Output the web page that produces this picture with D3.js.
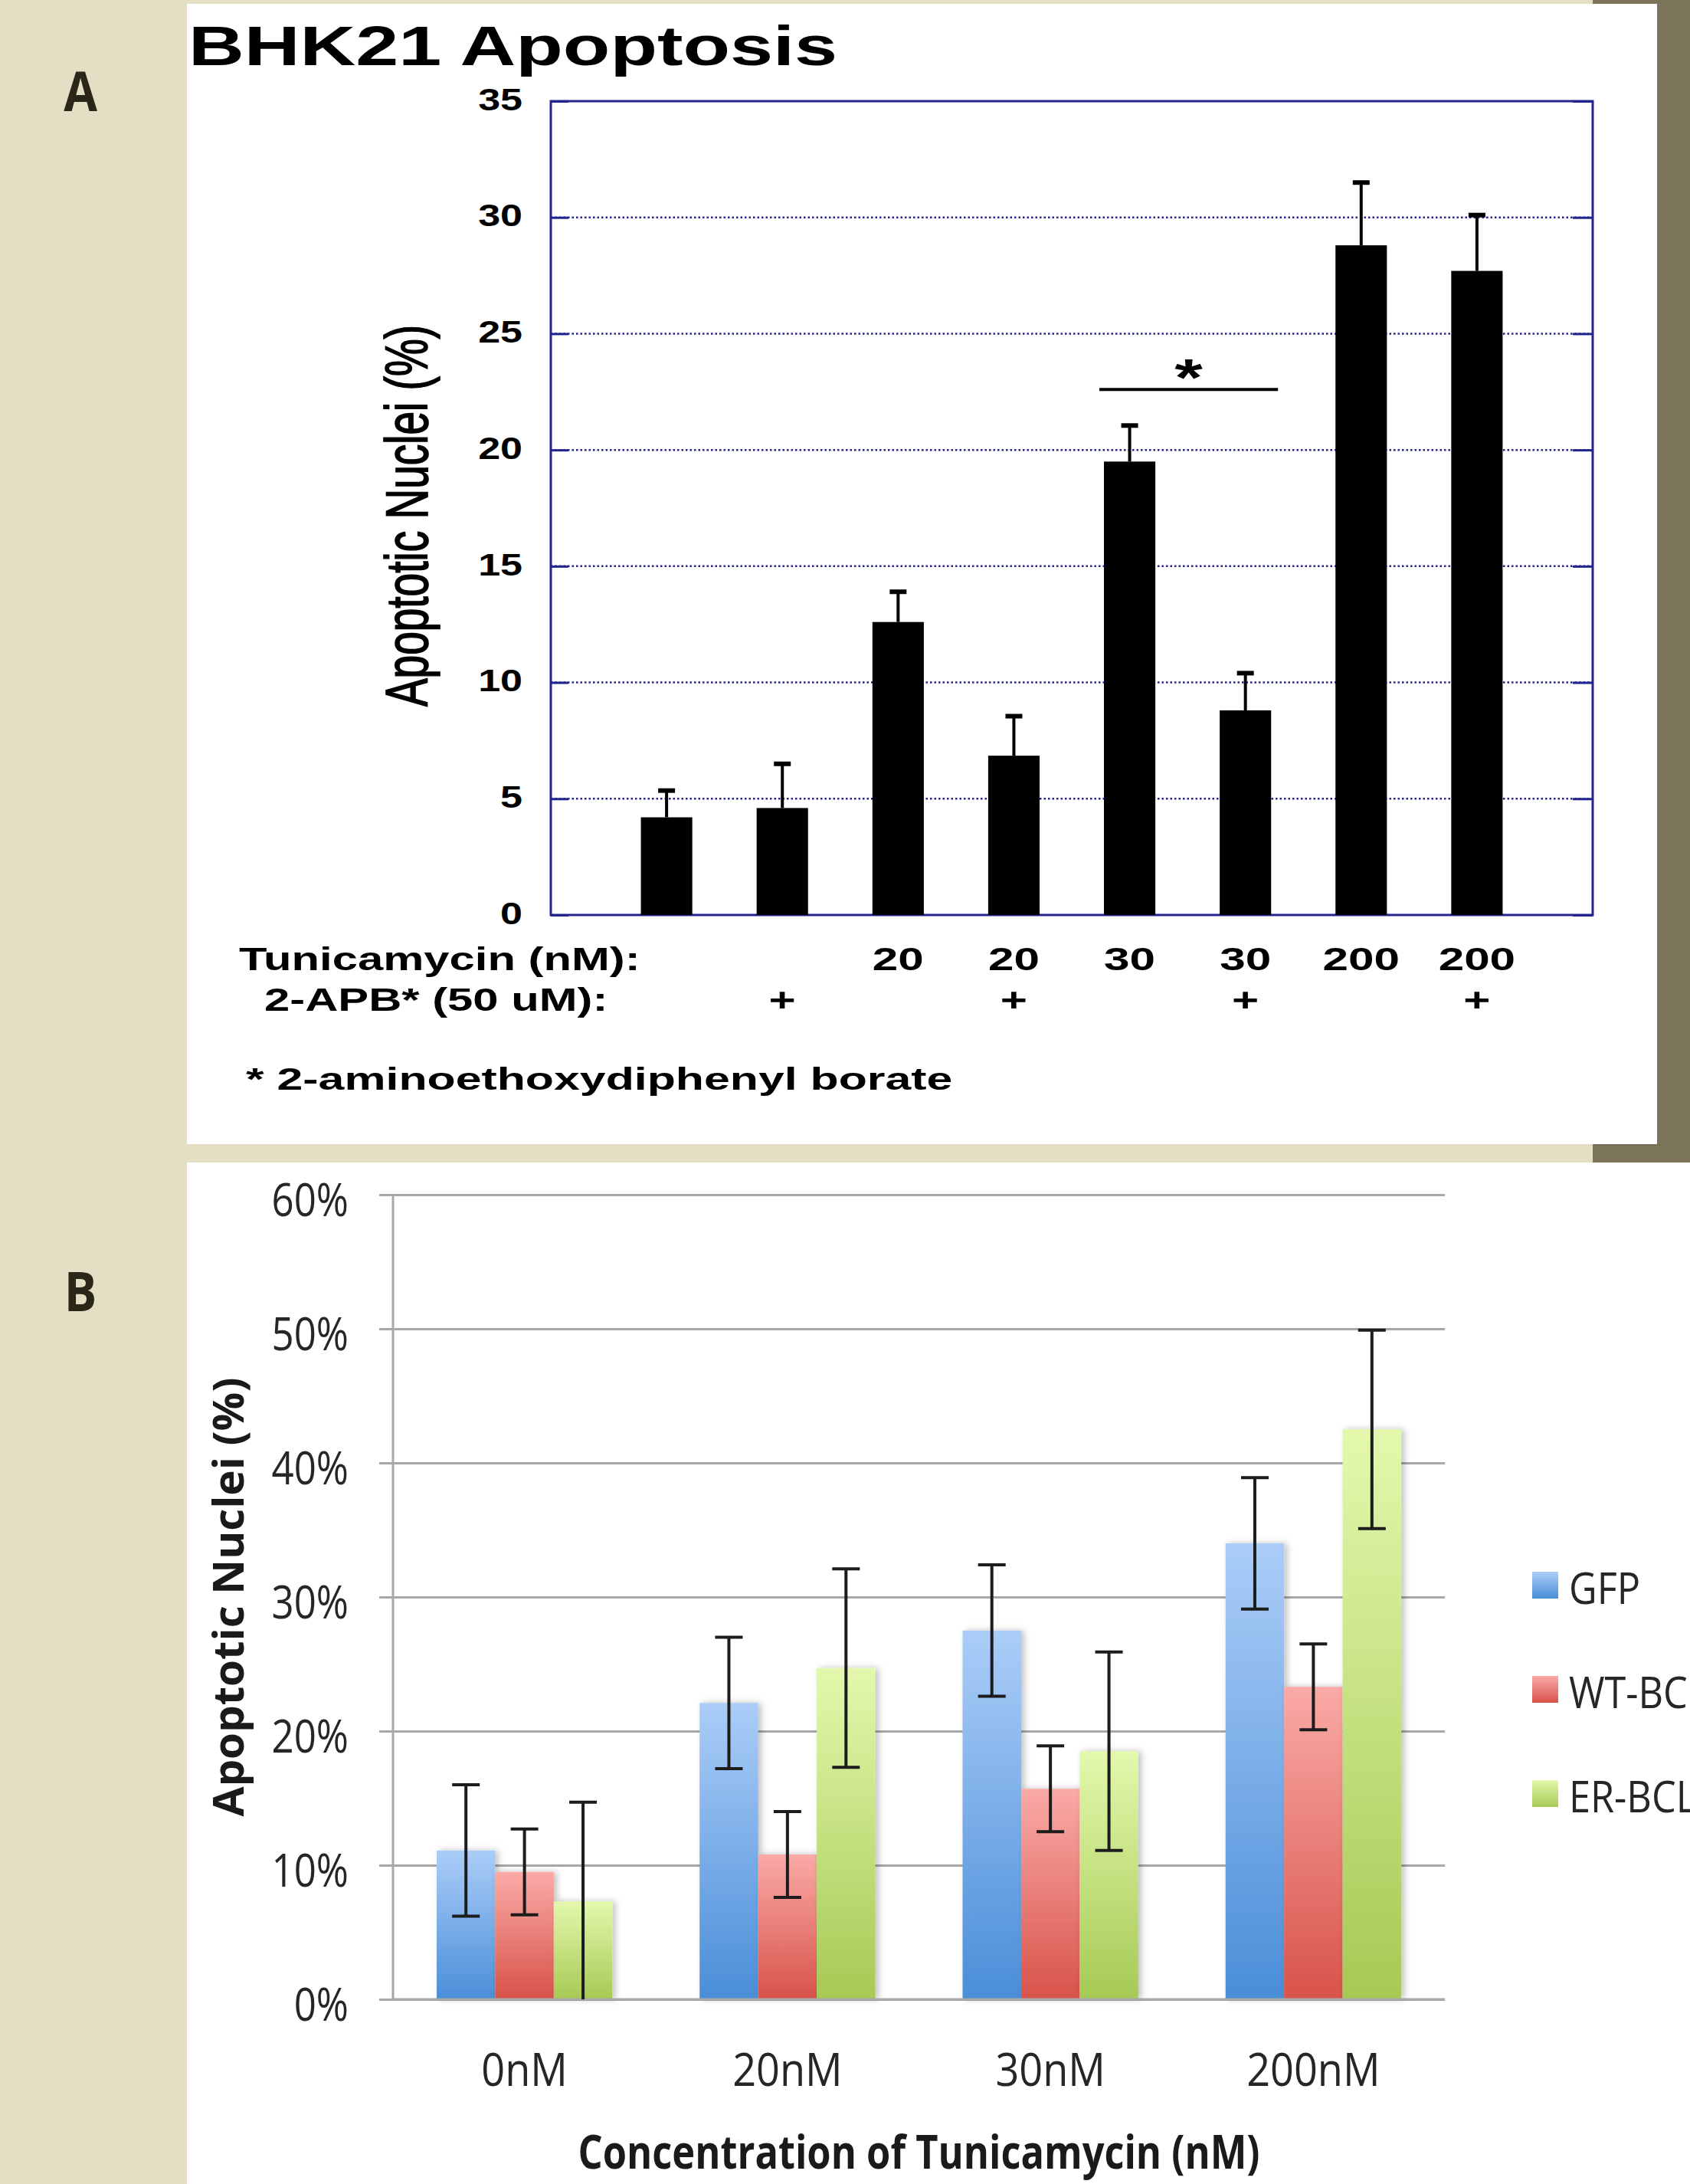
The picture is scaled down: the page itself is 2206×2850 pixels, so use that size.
<!DOCTYPE html>
<html>
<head>
<meta charset="utf-8">
<script src="https://cdn.jsdelivr.net/npm/d3@7"></script>
<style>
    body { margin: 0; background: #e4dfc4; overflow: hidden; }
    svg { display: block; }
</style>
</head>
<body>
<svg id="figure" width="2206" height="2850"></svg>
<script>
// ---- panel A data ----
var aCategories = ["ctrl", "ctrl+APB", "20", "20+APB", "30", "30+APB", "200", "200+APB"];
var aTunicamycin = ["", "", "20", "20", "30", "30", "200", "200"];
var aApb = ["", "+", "", "+", "", "+", "", "+"];
var aValues = [4.2, 4.6, 12.6, 6.85, 19.5, 8.8, 28.8, 27.7];
var aErrors = [1.15, 1.9, 1.3, 1.7, 1.55, 1.6, 2.7, 2.4];
var aTicks = [0, 5, 10, 15, 20, 25, 30, 35];
var aSignif = ["30", "30+APB"];

// ---- panel B data ----
var bGroups = ["0nM", "20nM", "30nM", "200nM"];
var bSeries = ["GFP", "WT-BCL2", "ER-BCL2"];
var bGfp = [11.1, 22.1, 27.5, 34.0];
var bWt = [9.5, 10.8, 15.7, 23.3];
var bEr = [7.3, 24.7, 18.5, 42.5];
var bGfpErr = [4.9, 4.9, 4.9, 4.9];
var bWtErr = [3.2, 3.2, 3.2, 3.2];
var bErErr = [7.4, 7.4, 7.4, 7.4];
var bTicks = [0, 10, 20, 30, 40, 50, 60];

var svg = d3.select("#figure");
var navy = "#24248f";
var arial = "'Liberation Sans', Arial, sans-serif";
var opens = "'Open Sans', sans-serif";

// stretch / squeeze text horizontally to match the picture
function squeeze(sel, k) {
    sel.each(function () {
        var w = this.getComputedTextLength();
        d3.select(this).attr("textLength", w * k).attr("lengthAdjust", "spacingAndGlyphs");
    });
}

// backgrounds
svg.append("rect").attr("width", 2206).attr("height", 2850).attr("fill", "#e4dfc4");
svg.append("rect").attr("x", 2079).attr("y", 0).attr("width", 127).attr("height", 1517).attr("fill", "#7b735a");
svg.append("rect").attr("x", 244).attr("y", 5).attr("width", 1919).attr("height", 1488).attr("fill", "#fff");
svg.append("rect").attr("x", 244).attr("y", 1517).attr("width", 1962).attr("height", 1333).attr("fill", "#fff");

// panel letters
svg.append("text").attr("x", 105).attr("y", 145).attr("text-anchor", "middle")
    .style("font-family", opens).style("font-weight", 700).style("font-size", "72px")
    .attr("fill", "#2b2718").text("A").call(squeeze, 0.88);
svg.append("text").attr("x", 105).attr("y", 1711).attr("text-anchor", "middle")
    .style("font-family", opens).style("font-weight", 700).style("font-size", "72px")
    .attr("fill", "#2b2718").text("B").call(squeeze, 0.88);

(function () {
    var left = 719, right = 2079, top = 132, bottom = 1194;
    var step = (right - left) / 9;
    var g = svg.append("g");

    var x = d3.scaleBand()
        .domain(aCategories)
        .range([left + step / 2, right - step / 2])
        .paddingInner(0.556)
        .paddingOuter(0.278);

    var y = d3.scaleLinear()
        .domain([0, 35])
        .range([bottom, top]);

    var data = aCategories.map(function (c, i) {
        return { key: c, value: aValues[i], err: aErrors[i], tun: aTunicamycin[i], apb: aApb[i] };
    });

    // title
    g.append("text").attr("x", 246).attr("y", 85)
        .style("font-family", arial).style("font-weight", 700).style("font-size", "73px")
        .text("BHK21 Apoptosis").call(squeeze, 1.38);

    // dotted grid
    g.selectAll(".grid")
        .data(aTicks.filter(function (t) { return t > 0 && t < 35; }))
        .enter().append("line")
        .attr("x1", left).attr("x2", right)
        .attr("y1", function (d) { return y(d); })
        .attr("y2", function (d) { return y(d); })
        .attr("stroke", navy).attr("stroke-width", 2.5).attr("stroke-dasharray", "2.5,3");

    // left axis, ticks inward
    var yl = g.append("g")
        .attr("transform", "translate(" + left + ",0)")
        .call(d3.axisLeft(y).tickValues(aTicks).tickSizeInner(-23).tickSizeOuter(0).tickPadding(37));
    yl.select(".domain").remove();
    yl.selectAll(".tick line").attr("stroke", navy).attr("stroke-width", 3);
    yl.selectAll(".tick text")
        .attr("dy", "0.28em")
        .style("font-family", arial).style("font-weight", 700).style("font-size", "40px")
        .attr("fill", "#000").call(squeeze, 1.3);

    var yr = g.append("g")
        .attr("transform", "translate(" + right + ",0)")
        .call(d3.axisRight(y).tickValues(aTicks).tickSizeInner(-26).tickSizeOuter(0).tickFormat(""));
    yr.select(".domain").remove();
    yr.selectAll(".tick line").attr("stroke", navy).attr("stroke-width", 3);

    // frame
    g.append("rect").attr("x", left).attr("y", top)
        .attr("width", right - left).attr("height", bottom - top)
        .attr("fill", "none").attr("stroke", navy).attr("stroke-width", 3);

    // bars
    g.selectAll(".bar")
        .data(data)
        .enter().append("rect")
        .attr("class", "bar")
        .attr("x", function (d) { return x(d.key); })
        .attr("y", function (d) { return y(d.value); })
        .attr("width", x.bandwidth())
        .attr("height", function (d) { return bottom - y(d.value); })
        .attr("fill", "#000");

    // error bars (upper only)
    var cx = function (d) { return x(d.key) + x.bandwidth() / 2; };
    g.selectAll(".err")
        .data(data)
        .enter().append("line")
        .attr("x1", cx).attr("x2", cx)
        .attr("y1", function (d) { return y(d.value); })
        .attr("y2", function (d) { return y(d.value + d.err); })
        .attr("stroke", "#000").attr("stroke-width", 4);
    g.selectAll(".cap")
        .data(data)
        .enter().append("line")
        .attr("x1", function (d) { return cx(d) - 11; })
        .attr("x2", function (d) { return cx(d) + 11; })
        .attr("y1", function (d) { return y(d.value + d.err); })
        .attr("y2", function (d) { return y(d.value + d.err); })
        .attr("stroke", "#000").attr("stroke-width", 6);

    // significance bracket
    var sx1 = x(aSignif[0]) - 6, sx2 = x(aSignif[1]) + x.bandwidth() + 9;
    g.append("line")
        .attr("x1", sx1).attr("x2", sx2)
        .attr("y1", y(22.6)).attr("y2", y(22.6))
        .attr("stroke", "#000").attr("stroke-width", 4);
    g.append("text")
        .attr("x", (sx1 + sx2) / 2).attr("y", y(22.6) + 8)
        .attr("text-anchor", "middle")
        .style("font-family", arial).style("font-weight", 700).style("font-size", "68px")
        .text("*").call(squeeze, 1.38);

    // category labels
    var lab = function (sel) {
        sel.style("font-family", arial).style("font-weight", 700).style("font-size", "43px").attr("fill", "#000");
    };
    g.selectAll(".tun")
        .data(data)
        .enter().append("text")
        .attr("x", cx).attr("y", 1266)
        .attr("text-anchor", "middle")
        .call(lab)
        .text(function (d) { return d.tun; })
        .filter(function (d) { return d.tun !== ""; })
        .call(squeeze, 1.4);
    g.selectAll(".apb")
        .data(data)
        .enter().append("text")
        .attr("x", cx).attr("y", 1319)
        .attr("text-anchor", "middle")
        .call(lab)
        .text(function (d) { return d.apb; })
        .filter(function (d) { return d.apb !== ""; })
        .call(squeeze, 1.4);

    g.append("text").attr("x", 312).attr("y", 1266).call(lab)
        .text("Tunicamycin (nM):").call(squeeze, 1.39);
    g.append("text").attr("x", 345).attr("y", 1319).call(lab)
        .text("2-APB* (50 uM):").call(squeeze, 1.39);
    g.append("text").attr("x", 321).attr("y", 1422).call(lab)
        .style("font-size", "40px")
        .text("* 2-aminoethoxydiphenyl borate").call(squeeze, 1.52);

    // y title, stretched sideways like the picture
    g.append("text")
        .attr("transform", "translate(558,673) scale(1.4,1) rotate(-90)")
        .attr("text-anchor", "middle")
        .style("font-family", arial).style("font-size", "55px").style("font-weight", 400)
        .style("stroke", "#000").style("stroke-width", 1.2)
        .text("Apoptotic Nuclei (%)");
})();

(function () {
    var left = 513, right = 1886, top = 1559, bottom = 2609;
    var g = svg.append("g");
    var defs = svg.append("defs");

    var colors = {
        "GFP": ["#abcdf8", "#4a8ed8"],
        "WT-BCL2": ["#faaaa7", "#d8534a"],
        "ER-BCL2": ["#e3f8ad", "#a6ca54"]
    };
    bSeries.forEach(function (s, i) {
        var lg = defs.append("linearGradient").attr("id", "grad" + i)
            .attr("x1", 0).attr("y1", 0).attr("x2", 0).attr("y2", 1);
        lg.append("stop").attr("offset", "0%").attr("stop-color", colors[s][0]);
        lg.append("stop").attr("offset", "100%").attr("stop-color", colors[s][1]);
    });
    defs.append("filter").attr("id", "shadow").attr("x", "-20%").attr("width", "150%")
        .append("feDropShadow").attr("dx", 4).attr("dy", 0).attr("stdDeviation", 4)
        .attr("flood-color", "#000").attr("flood-opacity", 0.25);

    var x0 = d3.scaleBand()
        .domain(bGroups)
        .range([left, right])
        .paddingInner(0.332)
        .paddingOuter(0.166);
    var x1 = d3.scaleBand()
        .domain(bSeries)
        .range([0, x0.bandwidth()]);
    var y = d3.scaleLinear()
        .domain([0, 60])
        .range([bottom, top]);

    var vals = [bGfp, bWt, bEr], errs = [bGfpErr, bWtErr, bErErr];
    var data = [];
    bGroups.forEach(function (grp, gi) {
        bSeries.forEach(function (s, si) {
            data.push({ group: grp, series: s, si: si, value: vals[si][gi], err: errs[si][gi] });
        });
    });

    // grid + y axis
    var ya = g.append("g")
        .attr("transform", "translate(" + left + ",0)")
        .call(d3.axisLeft(y).tickValues(bTicks)
            .tickFormat(function (d) { return d + "%"; })
            .tickSizeInner(-(right - left)).tickSizeOuter(0).tickPadding(58));
    ya.select(".domain").remove();
    ya.selectAll(".tick line").attr("x1", -18).attr("stroke", "#a8a8a8").attr("stroke-width", 3);
    ya.selectAll(".tick text")
        .attr("dy", "0.45em")
        .style("font-family", opens).style("font-size", "60px")
        .attr("fill", "#262626").call(squeeze, 0.85);

    g.append("line").attr("x1", left).attr("x2", left).attr("y1", top).attr("y2", bottom)
        .attr("stroke", "#a8a8a8").attr("stroke-width", 3);

    // bars
    g.selectAll(".bar")
        .data(data)
        .enter().append("rect")
        .attr("x", function (d) { return x0(d.group) + x1(d.series); })
        .attr("y", function (d) { return y(d.value); })
        .attr("width", x1.bandwidth())
        .attr("height", function (d) { return bottom - y(d.value); })
        .attr("fill", function (d) { return "url(#grad" + d.si + ")"; })
        .attr("filter", "url(#shadow)");

    g.append("line").attr("x1", left).attr("x2", right).attr("y1", bottom).attr("y2", bottom)
        .attr("stroke", "#a8a8a8").attr("stroke-width", 3);

    // error bars
    var cx = function (d) { return x0(d.group) + x1(d.series) + x1.bandwidth() / 2; };
    var lo = function (d) { return y(Math.max(0, d.value - d.err)); };
    var hi = function (d) { return y(d.value + d.err); };
    var eb = g.selectAll(".eb").data(data).enter().append("g");
    eb.append("line").attr("x1", cx).attr("x2", cx).attr("y1", lo).attr("y2", hi);
    eb.append("line").attr("x1", function (d) { return cx(d) - 18; })
        .attr("x2", function (d) { return cx(d) + 18; }).attr("y1", hi).attr("y2", hi);
    eb.append("line").attr("x1", function (d) { return cx(d) - 18; })
        .attr("x2", function (d) { return cx(d) + 18; }).attr("y1", lo).attr("y2", lo)
        .filter(function (d) { return d.value - d.err <= 0; }).remove();
    eb.selectAll("line").attr("stroke", "#1c1c1c").attr("stroke-width", 4);

    // x labels
    g.selectAll(".xl")
        .data(bGroups)
        .enter().append("text")
        .attr("x", function (d) { return x0(d) + x0.bandwidth() / 2; })
        .attr("y", 2722)
        .attr("text-anchor", "middle")
        .style("font-family", opens).style("font-size", "60px").attr("fill", "#262626")
        .text(function (d) { return d; })
        .call(squeeze, 0.9);

    g.append("text")
        .attr("x", (left + right) / 2).attr("y", 2830)
        .attr("text-anchor", "middle")
        .style("font-family", opens).style("font-weight", 700).style("font-size", "60px")
        .attr("fill", "#1a1a1a")
        .text("Concentration of Tunicamycin (nM)")
        .attr("textLength", 890).attr("lengthAdjust", "spacingAndGlyphs");

    g.append("text")
        .attr("transform", "translate(318," + (top + bottom) / 2 + ") rotate(-90)")
        .attr("text-anchor", "middle")
        .style("font-family", opens).style("font-weight", 700).style("font-size", "56px")
        .attr("fill", "#1a1a1a")
        .text("Apoptotic Nuclei (%)")
        .attr("textLength", 573).attr("lengthAdjust", "spacingAndGlyphs");

    // legend (the last two names run off the right edge, as in the figure)
    var lg = g.selectAll(".legend")
        .data(bSeries)
        .enter().append("g")
        .attr("transform", function (d, i) { return "translate(2000," + (2051 + i * 136) + ")"; });
    lg.append("rect").attr("width", 34).attr("height", 35)
        .attr("fill", function (d, i) { return "url(#grad" + i + ")"; });
    lg.append("text").attr("x", 48).attr("y", 42)
        .style("font-family", opens).style("font-size", "56px").attr("fill", "#262626")
        .text(function (d) { return d; })
        .call(squeeze, 0.9);
})();
</script>
</body>
</html>
